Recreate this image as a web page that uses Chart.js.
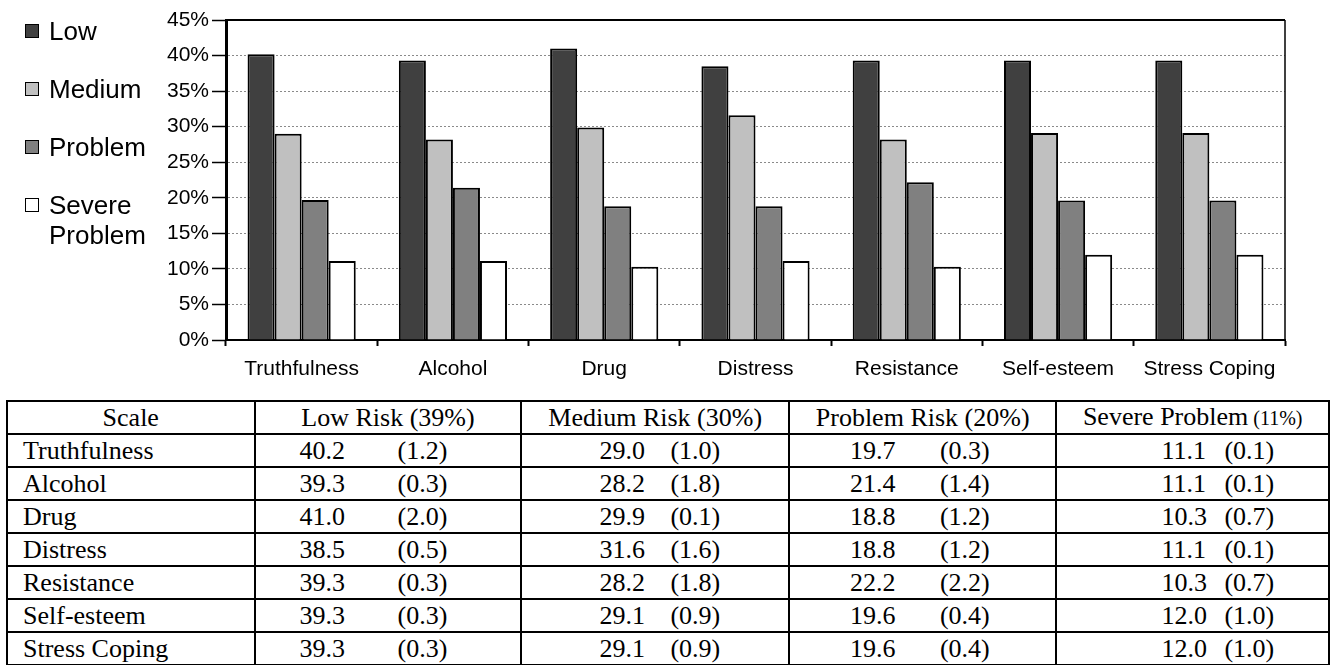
<!DOCTYPE html>
<html>
<head>
<meta charset="utf-8">
<script src="https://cdn.jsdelivr.net/npm/chart.js@4.4.1/dist/chart.umd.min.js"></script>
<style>
  body { margin: 0; width: 1330px; height: 665px; overflow: hidden; background: #fff; position: relative;
         font-family: Arial, "Liberation Sans", sans-serif; }
  #chartBox { position: absolute; left: 0; top: 0; width: 1330px; height: 395px; }
  #legend { position: absolute; left: 25px; top: 0; }
  .item { position: absolute; left: 0; white-space: nowrap; }
  .sw { position: absolute; left: 0; width: 12px; height: 12px; border: 1.5px solid #000; }
  .lbl { position: absolute; left: 24px; top: 0; font-size: 26px; line-height: 30px; color: #000; }
  table { position: absolute; left: 6px; top: 400px; border-collapse: collapse; table-layout: fixed;
          font-family: "Times New Roman", "Liberation Serif", serif; font-size: 26px; color: #000; }
  td { border: 2px solid #000; padding: 0; height: 31px; line-height: 28px; white-space: nowrap; overflow: hidden; }
  td.scale { padding-left: 15px; }
  td.head { text-align: center; }
  .v { display: inline-block; }
  .small { font-size: 20px; }
</style>
</head>
<body>
<div id="chartBox"><canvas id="riskChart"></canvas></div>
<div id="legend"></div>
<table id="riskTable"></table>
<script>
const categories = ['Truthfulness', 'Alcohol', 'Drug', 'Distress', 'Resistance', 'Self-esteem', 'Stress Coping'];
const seriesNames = ['Low', 'Medium', 'Problem', 'Severe Problem'];
const seriesColors = ['#404040', '#c0c0c0', '#808080', '#ffffff'];

// percentages per risk level
const lowRisk = [40.2, 39.3, 41.0, 38.5, 39.3, 39.3, 39.3];
const mediumRisk = [29.0, 28.2, 29.9, 31.6, 28.2, 29.1, 29.1];
const problemRisk = [19.7, 21.4, 18.8, 18.8, 22.2, 19.6, 19.6];
const severeRisk = [11.1, 11.1, 10.3, 11.1, 10.3, 12.0, 12.0];

// values in brackets in the table
const lowDiff = [1.2, 0.3, 2.0, 0.5, 0.3, 0.3, 0.3];
const mediumDiff = [1.0, 1.8, 0.1, 1.6, 1.8, 0.9, 0.9];
const problemDiff = [0.3, 1.4, 1.2, 1.2, 2.2, 0.4, 0.4];
const severeDiff = [0.1, 0.1, 0.7, 0.1, 0.7, 1.0, 1.0];

const tableHeads = ['Scale', 'Low Risk (39%)', 'Medium Risk (30%)', 'Problem Risk (20%)', 'Severe Problem'];
const severeHeadNote = '(11%)';
const yTicks = [0, 5, 10, 15, 20, 25, 30, 35, 40, 45];

const allSeries = [lowRisk, mediumRisk, problemRisk, severeRisk];
const allDiffs = [lowDiff, mediumDiff, problemDiff, severeDiff];

// legend on the left
const legend = document.getElementById('legend');
seriesNames.forEach((name, i) => {
    const item = document.createElement('div');
    item.className = 'item';
    item.style.top = (16 + i * 58) + 'px';
    const sw = document.createElement('div');
    sw.className = 'sw';
    sw.style.background = seriesColors[i];
    sw.style.top = '8px';
    const lbl = document.createElement('div');
    lbl.className = 'lbl';
    lbl.innerHTML = name.replace(' ', '<br>');
    item.appendChild(sw);
    item.appendChild(lbl);
    legend.appendChild(item);
});

// top and right edge of the plot area
const frame = {
    id: 'frame',
    afterDraw(chart) {
        const { ctx, chartArea } = chart;
        ctx.save();
        ctx.strokeStyle = '#000';
        ctx.lineWidth = 2;
        ctx.beginPath();
        ctx.moveTo(chartArea.left, chartArea.top);
        ctx.lineTo(chartArea.right, chartArea.top);
        ctx.stroke();
        ctx.lineWidth = 1.5;
        ctx.beginPath();
        ctx.moveTo(chartArea.right, chartArea.top);
        ctx.lineTo(chartArea.right, chartArea.bottom);
        ctx.stroke();
        ctx.restore();
    }
};

const ctx = document.getElementById('riskChart').getContext('2d');
new Chart(ctx, {
    type: 'bar',
    data: {
        labels: categories,
        datasets: allSeries.map((vals, i) => ({
            label: seriesNames[i],
            data: vals,
            backgroundColor: seriesColors[i],
            borderColor: '#000',
            borderWidth: 2,
            barPercentage: 1,
            categoryPercentage: 0.715
        }))
    },
    options: {
        responsive: true,
        maintainAspectRatio: false,
        animation: false,
        layout: { padding: { left: 146, right: 45, top: 20, bottom: 15 } },
        plugins: {
            legend: { display: false },
            tooltip: { enabled: false }
        },
        scales: {
            x: {
                afterFit: (scale) => { scale.height = 40; },
                grid: {
                    drawOnChartArea: false,
                    tickLength: 6,
                    tickColor: '#000',
                    tickWidth: 2
                },
                border: { color: '#000', width: 2 },
                ticks: {
                    color: '#000',
                    padding: 11,
                    font: { family: 'Arial, "Liberation Sans", sans-serif', size: 21 }
                }
            },
            y: {
                min: 0,
                max: 45,
                afterFit: (scale) => { scale.width = 80; },
                afterBuildTicks: (scale) => { scale.ticks = yTicks.map(v => ({ value: v })); },
                grid: {
                    color: (c) => (c.tick && (c.tick.value === 0 || c.tick.value === 45)) ? 'rgba(0,0,0,0)' : '#8a8a8a',
                    lineWidth: 1,
                    tickLength: 14,
                    tickColor: '#000',
                    tickWidth: 1.5,
                    tickBorderDash: []
                },
                border: { color: '#000', width: 3, dash: [2, 2] },
                ticks: {
                    color: '#000',
                    padding: 3,
                    font: { family: 'Arial, "Liberation Sans", sans-serif', size: 21 },
                    callback: (v) => v + '%'
                }
            }
        }
    },
    plugins: [frame]
});

// table under the chart
const colWidths = [250, 269, 269, 269, 274];
const valueOffsets = [44, 77, 60, 104];
const diffOffsets = [142, 148, 150, 167];
const table = document.getElementById('riskTable');
const colgroup = document.createElement('colgroup');
colWidths.forEach(w => {
    const col = document.createElement('col');
    col.style.width = w + 'px';
    colgroup.appendChild(col);
});
table.appendChild(colgroup);

const headRow = document.createElement('tr');
tableHeads.forEach((h, i) => {
    const td = document.createElement('td');
    td.className = 'head';
    td.textContent = h;
    if (i === tableHeads.length - 1) {
        const s = document.createElement('span');
        s.className = 'small';
        s.textContent = ' ' + severeHeadNote;
        td.appendChild(s);
    }
    headRow.appendChild(td);
});
table.appendChild(headRow);

categories.forEach((cat, r) => {
    const tr = document.createElement('tr');
    const first = document.createElement('td');
    first.className = 'scale';
    first.textContent = cat;
    tr.appendChild(first);
    allSeries.forEach((vals, c) => {
        const td = document.createElement('td');
        td.style.paddingLeft = valueOffsets[c] + 'px';
        const v = document.createElement('span');
        v.className = 'v';
        v.style.width = (diffOffsets[c] - valueOffsets[c]) + 'px';
        v.textContent = vals[r].toFixed(1);
        const d = document.createElement('span');
        d.textContent = '(' + allDiffs[c][r].toFixed(1) + ')';
        td.appendChild(v);
        td.appendChild(d);
        tr.appendChild(td);
    });
    table.appendChild(tr);
});
</script>
</body>
</html>
